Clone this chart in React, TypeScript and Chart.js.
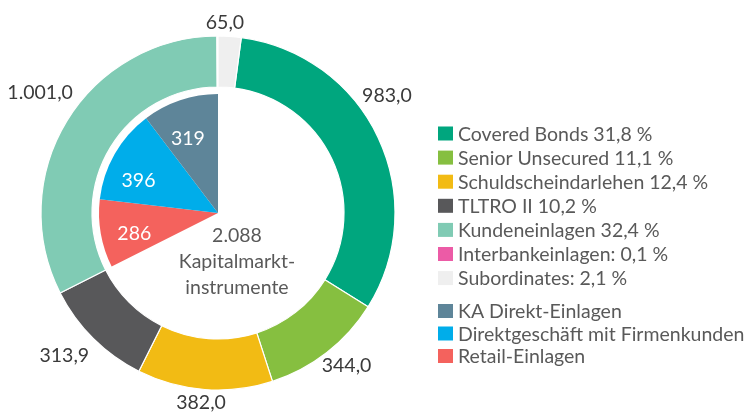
import React, { useEffect, useRef } from 'react';
import { Chart, registerables } from 'chart.js';

Chart.register(...registerables);

// ---------- DATA ----------
const outerLabels = [
  'Covered Bonds',
  'Senior Unsecured',
  'Schuldscheindarlehen',
  'TLTRO II',
  'Kundeneinlagen',
  'Interbankeinlagen',
  'Subordinates',
];
const outerValues = [983.0, 344.0, 382.0, 313.9, 1001.0, 3.0, 65.0];
const outerValueShown = [true, true, true, true, true, false, true];
const legendSeparators = ['', '', '', '', '', ':', ':'];

const innerLabels = ['KA Direkt-Einlagen', 'Direktgeschäft mit Firmenkunden', 'Retail-Einlagen'];
const innerValues = [319, 396, 286];

const kapitalmarktLines = ['Kapitalmarkt-', 'instrumente'];
const kapitalmarktValue = 2088;

// ---------- STYLE ----------
const outerColors = ['#00A67E', '#86BF40', '#F2BB14', '#58585A', '#80CBB4', '#EC5BA6', '#EFEFEF'];
const innerColors = ['#5E8599', '#00ADEA', '#F4625D'];
const FONT = '19.5px Lato, "Open Sans", sans-serif';
const CAP = 7; // half cap height for vertical centering

// label placement: [angle nudge in degrees, distance from centre]
const outerLabelPlacement = [
  [-9.7, 206],
  [-2.3, 199],
  [0.8, 190],
  [2.5, 209],
  [2.8, 215],
  [0, 0],
  [-1.7, 191],
];
const innerLabelPlacement = [
  [-3.2, 81],
  [-7.3, 86],
  [-3.4, 86],
];
const centerLabelPlacement = [36.9, 52];

const fmtDe = (v: number, decimals: number) => {
  const fixed = v.toFixed(decimals);
  const [intPart, dec] = fixed.split('.');
  const withSep = intPart.replace(/\B(?=(\d{3})+(?!\d))/g, '.');
  return dec ? `${withSep},${dec}` : withSep;
};

const deg = (d: number) => (d * Math.PI) / 180;

const outerTotal = outerValues.reduce((a, b) => a + b, 0);
const subordinatesIndex = outerValues.length - 1;
const outerRotation = (outerValues[subordinatesIndex] / outerTotal) * 360;

// inner pie drawn clockwise from the top: Kapitalmarkt, then the deposit types in reverse legend order
const innerDrawValues = [kapitalmarktValue, ...innerValues.slice().reverse()];
const innerDrawColors = ['#FFFFFF', ...innerColors.slice().reverse()];

const labelPlugin = {
  id: 'customLabels',
  afterDatasetsDraw(chart: any) {
    const ctx = chart.ctx as CanvasRenderingContext2D;
    ctx.save();
    ctx.font = FONT;
    ctx.textBaseline = 'alphabetic';
    ctx.textAlign = 'center';

    // outer value labels
    const outerMeta = chart.getDatasetMeta(0);
    outerMeta.data.forEach((arc: any, i: number) => {
      if (!outerValueShown[i]) return;
      const p = arc.getProps(['x', 'y', 'startAngle', 'endAngle'], true);
      const [nudge, dist] = outerLabelPlacement[i];
      const a = (p.startAngle + p.endAngle) / 2 + deg(nudge);
      const x = p.x + Math.cos(a) * dist;
      const y = p.y + Math.sin(a) * dist;
      ctx.fillStyle = '#3A3A3A';
      ctx.fillText(fmtDe(outerValues[i], 1), x, y + CAP);
    });

    // inner labels
    const innerMeta = chart.getDatasetMeta(2);
    innerMeta.data.forEach((arc: any, j: number) => {
      const p = arc.getProps(['x', 'y', 'startAngle', 'endAngle'], true);
      if (j === 0) {
        const [nudge, dist] = centerLabelPlacement;
        const a = (p.startAngle + p.endAngle) / 2 + deg(nudge);
        const x = p.x + Math.cos(a) * dist;
        const y = p.y + Math.sin(a) * dist;
        const lines = [fmtDe(kapitalmarktValue, 0), ...kapitalmarktLines];
        const lh = 26;
        ctx.fillStyle = '#595959';
        lines.forEach((t, k) => {
          ctx.fillText(t, x, y + (k - (lines.length - 1) / 2) * lh + CAP);
        });
      } else {
        const i = innerValues.length - j; // index in legend order
        const [nudge, dist] = innerLabelPlacement[i];
        const a = (p.startAngle + p.endAngle) / 2 + deg(nudge);
        const x = p.x + Math.cos(a) * dist;
        const y = p.y + Math.sin(a) * dist;
        ctx.fillStyle = '#FFFFFF';
        ctx.fillText(fmtDe(innerValues[i], 0), x, y + CAP);
      }
    });

    // legend
    ctx.textAlign = 'left';
    const boxX = 438;
    const textX = 458;
    const boxW = 15;
    const boxH = 14;
    const drawItem = (color: string, text: string, cy: number) => {
      ctx.fillStyle = color;
      ctx.fillRect(boxX, cy - boxH / 2, boxW, boxH);
      ctx.fillStyle = '#595959';
      ctx.fillText(text, textX, cy + CAP);
    };
    outerLabels.forEach((name, i) => {
      const pct = fmtDe((outerValues[i] / outerTotal) * 100, 1);
      drawItem(outerColors[i], `${name}${legendSeparators[i]} ${pct} %`, 133.5 + i * 24.1);
    });
    innerLabels.forEach((name, i) => {
      drawItem(innerColors[i], name, 311 + i * 22.5);
    });
    ctx.restore();
  },
};

export default function App() {
  const ref = useRef<HTMLCanvasElement | null>(null);

  useEffect(() => {
    document.body.style.margin = '0';
    const canvas = ref.current;
    if (!canvas) return;
    const chart = new Chart(canvas, {
      type: 'doughnut',
      data: {
        labels: outerLabels,
        datasets: [
          {
            data: outerValues,
            backgroundColor: outerColors,
            borderColor: '#FFFFFF',
            borderWidth: 1.2,
            weight: 51,
            rotation: outerRotation,
          } as any,
          {
            data: [1],
            backgroundColor: ['rgba(0,0,0,0)'],
            borderWidth: 0,
            weight: 7,
          } as any,
          {
            data: innerDrawValues,
            backgroundColor: innerDrawColors,
            borderColor: '#FFFFFF',
            borderWidth: 0,
            weight: 119,
            rotation: 0,
          } as any,
        ],
      },
      options: {
        responsive: false,
        animation: false,
        devicePixelRatio: 1,
        cutout: 0,
        radius: 177,
        hoverOffset: 0,
        layout: { padding: { left: 38, top: 33, right: 351, bottom: 19 } },
        plugins: {
          legend: { display: false },
          tooltip: { enabled: false },
        },
        events: [],
      } as any,
      plugins: [labelPlugin],
    });
    return () => chart.destroy();
  }, []);

  return (
    <div style={{ position: 'fixed', left: 0, top: 0, width: 749, height: 412, background: '#FFFFFF' }}>
      <canvas ref={ref} width={749} height={412} style={{ width: 749, height: 412, display: 'block' }} />
    </div>
  );
}
